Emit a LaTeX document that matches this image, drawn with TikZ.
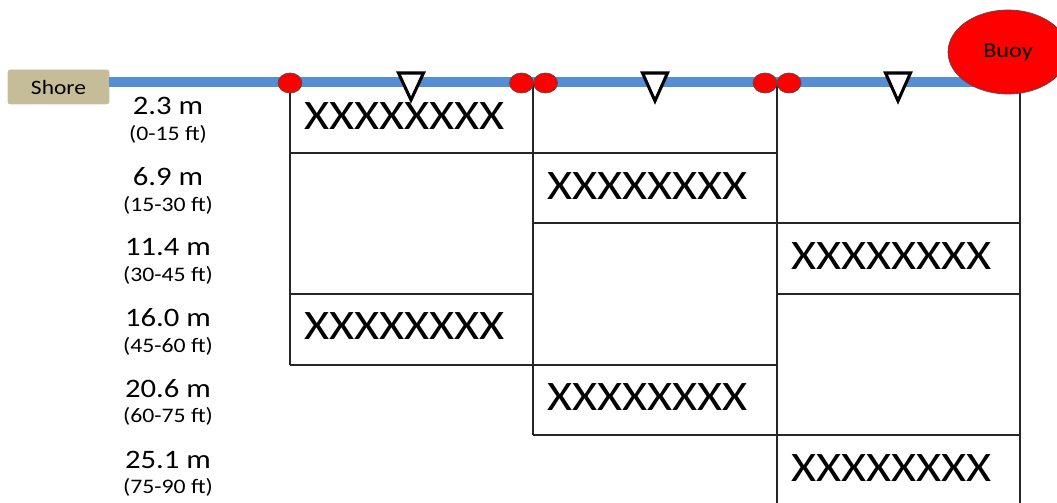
\documentclass[tikz,border=0pt]{standalone}
\usepackage{fontspec}
\setmainfont{Carlito}[FakeStretch=1.15]
\usetikzlibrary{shapes.geometric}
\definecolor{ropeblue}{HTML}{558ED5}
\definecolor{shoretan}{HTML}{C4BD97}
\definecolor{buoyred}{HTML}{FF0000}
\tikzset{
  gridline/.style={line width=1.5pt, black!85},
  floatball/.style={ellipse, draw=black!70, line width=0.5pt, fill=buoyred, minimum width=18pt, minimum height=15pt, inner sep=0pt},
  levelmark/.style={draw=black, line width=2.3pt, fill=white, line join=miter},
  depthlbl/.style={font=\fontsize{20}{22}\selectfont},
  rangelbl/.style={font=\fontsize{15.5}{17}\selectfont},
  celltext/.style={anchor=west, font=\fontsize{31.5}{34}\selectfont, inner sep=0pt},
}
\begin{document}
\begin{tikzpicture}[x=0.75pt,y=-0.75pt]
\useasboundingbox (0,0) rectangle (1057,503);
% shore box
\node[draw=shoretan!80!black!60, fill=shoretan, rounded corners=1.5pt, minimum width=75.75pt, minimum height=25.5pt, inner sep=0pt, font=\fontsize{15.3}{17}\selectfont] (shore) at (58.5,87) {Shore};
\coordinate (ropeend) at (1008,82);
% rope
\draw[ropeblue, line width=7.5pt] (shore.east |- 0,82) -- (ropeend);
% grid lines
\coordinate (v1) at (290,365);
\coordinate (v2) at (533,435);
\coordinate (v3) at (777,503);
\coordinate (v4) at (1020,503);
\draw[gridline] (290,83) -- (v1);
\draw[gridline] (533,83) -- (v2);
\draw[gridline] (777,83) -- (v3);
\draw[gridline] (1020,90) -- (v4);
\draw[gridline] (290,153) -- (777,153);
\draw[gridline] (533,223) -- (1020,223);
\draw[gridline] (290,294) -- (533,294);
\draw[gridline] (777,294) -- (1020,294);
\draw[gridline] (290,365) -- (777,365);
\draw[gridline] (533,435) -- (1020,435);
% floats
\node[floatball] (f1) at (290,83) {};
\node[floatball] (f2) at (521.5,83) {};
\node[floatball] (f3) at (545.5,83) {};
\node[floatball] (f4) at (765,83) {};
\node[floatball] (f5) at (789,83) {};
% buoy
\node[ellipse, draw=black!70, line width=0.5pt, fill=buoyred, minimum width=90pt, minimum height=63pt, inner sep=0pt, font=\fontsize{15.8}{17}\selectfont] (buoy) at (1008,52) {Buoy};
% cell texts
\node[celltext] (x1) at (304,116) {XXXXXXXX};
\node[celltext] (x2) at (547,186) {XXXXXXXX};
\node[celltext] (x3) at (791,256) {XXXXXXXX};
\node[celltext] (x4) at (304,326) {XXXXXXXX};
\node[celltext] (x5) at (547,397) {XXXXXXXX};
\node[celltext] (x6) at (791,468) {XXXXXXXX};
% markers
\draw[levelmark] (398.5,73) -- (423.5,73) -- (411,100) -- cycle;
\draw[levelmark] (642.5,73) -- (667.5,73) -- (655,101) -- cycle;
\draw[levelmark] (885.5,73) -- (910.5,73) -- (898,101) -- cycle;
% depth labels
\node[depthlbl] (d1) at (168,106) {2.3 m};
\node[rangelbl] (r1) at (168,134) {(0-15 ft)};
\node[depthlbl] (d2) at (168,177) {6.9 m};
\node[rangelbl] (r2) at (168,205) {(15-30 ft)};
\node[depthlbl] (d3) at (168,247) {11.4 m};
\node[rangelbl] (r3) at (168,275) {(30-45 ft)};
\node[depthlbl] (d4) at (168,318) {16.0 m};
\node[rangelbl] (r4) at (168,346) {(45-60 ft)};
\node[depthlbl] (d5) at (168,389) {20.6 m};
\node[rangelbl] (r5) at (168,416) {(60-75 ft)};
\node[depthlbl] (d6) at (168,460) {25.1 m};
\node[rangelbl] (r6) at (168,487) {(75-90 ft)};
\end{tikzpicture}
\end{document}
